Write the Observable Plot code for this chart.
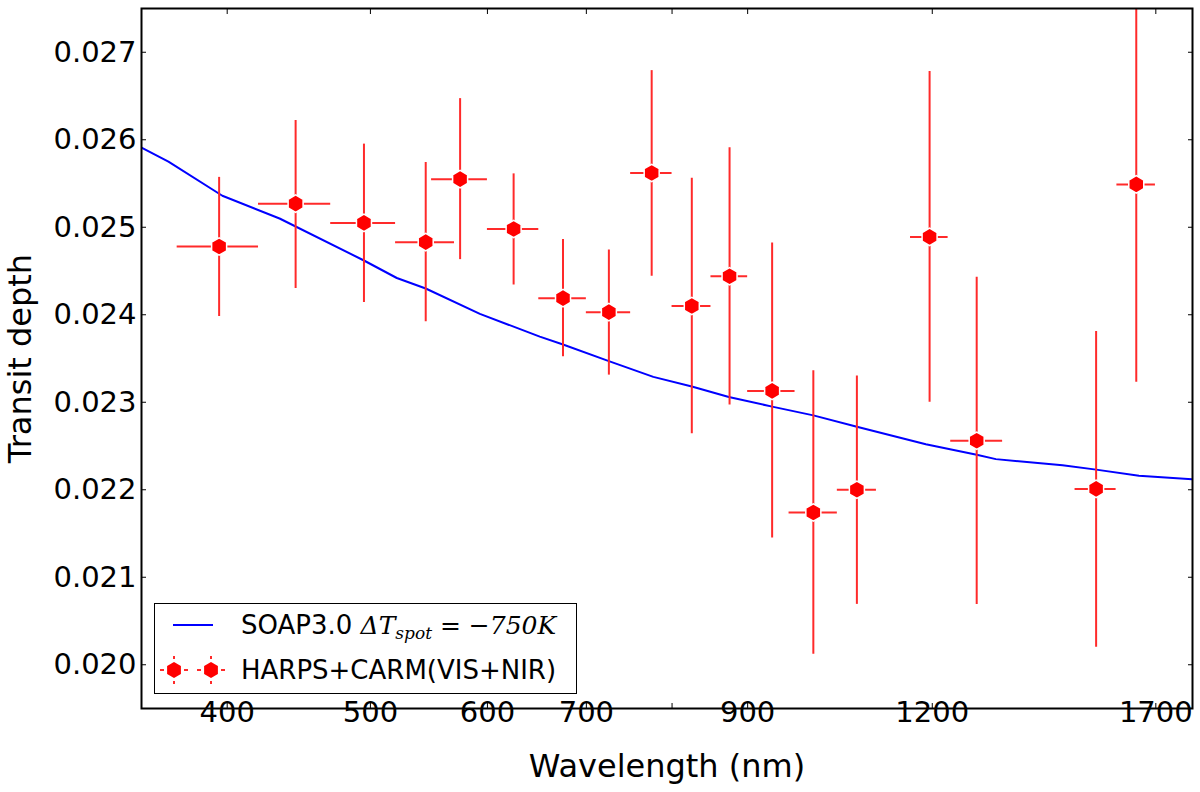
<!DOCTYPE html>
<html>
<head>
<meta charset="utf-8">
<script src="https://cdn.jsdelivr.net/npm/d3@7"></script>
<script src="https://cdn.jsdelivr.net/npm/@observablehq/plot@0.6"></script>
<style>
  body { margin: 0; background: #fff; font-family: "DejaVu Sans", sans-serif; }
  #chart { position: relative; width: 1200px; height: 792px; }
  .legend { position: absolute; left: 154px; top: 603px; width: 421px; height: 89px;
            border: 1.5px solid #000; background: #fff; }
  .legend svg { position: absolute; left: 0; top: 0; }
  .legend .row { position: absolute; left: 86px; font-size: 26px; line-height: 1; white-space: nowrap; color: #000; }
  .math { font-family: "DejaVu Serif", serif; font-style: italic; font-size: 25px; }
  .math sub { font-size: 17px; vertical-align: -5px; line-height: 0; }
</style>
</head>
<body>
<div id="chart"></div>
<script>
// measured transit depth per wavelength bin (nm)
const wavelength = [395, 445, 495, 545, 575, 625, 675, 725, 775, 825, 875, 935, 997, 1067, 1195, 1286, 1549, 1649];
const wlLow  = [370, 420, 470, 520, 550, 600, 650, 700, 750, 800, 850, 900, 960, 1035, 1160, 1235, 1499, 1600];
const wlHigh = [420, 470, 520, 570, 600, 650, 700, 750, 800, 850, 900, 969, 1035, 1100, 1230, 1339, 1598, 1699];
const depth     = [0.02478, 0.02527, 0.02505, 0.02483, 0.02555, 0.02498, 0.02419, 0.02403, 0.02562, 0.02410, 0.02444, 0.02313, 0.02174, 0.02200, 0.02489, 0.02256, 0.02201, 0.02549];
const depthLow  = [0.02398, 0.02430, 0.02414, 0.02392, 0.02463, 0.02434, 0.02352, 0.02331, 0.02444, 0.02264, 0.02297, 0.02145, 0.02012, 0.02069, 0.02300, 0.02069, 0.02020, 0.02323];
const depthHigh = [0.02557, 0.02622, 0.02595, 0.02574, 0.02647, 0.02561, 0.02486, 0.02474, 0.02679, 0.02556, 0.02591, 0.02482, 0.02336, 0.02330, 0.02678, 0.02443, 0.02381, 0.02775];

// SOAP3.0 model curve
const modelWavelength = [350, 365, 397, 434, 495, 521, 545, 593, 651, 675, 725, 777, 825, 874, 935, 997, 1067, 1188, 1286, 1325, 1470, 1549, 1656, 1800];
const modelDepth = [0.02591, 0.02575, 0.02536, 0.02510, 0.02462, 0.02442, 0.02430, 0.02401, 0.02375, 0.02366, 0.02347, 0.02329, 0.02318, 0.02306, 0.02295, 0.02285, 0.02272, 0.02252, 0.02240, 0.02235, 0.02228, 0.02223, 0.02216, 0.02212];

const xTicks = [400, 500, 600, 700, 800, 900, 1200, 1700];
const xTickLabels = ["400", "500", "600", "700", "", "900", "1200", "1700"];
const yTicks = [0.020, 0.021, 0.022, 0.023, 0.024, 0.025, 0.026, 0.027];

const points = wavelength.map((w, i) => ({
  w, lo: wlLow[i], hi: wlHigh[i], d: depth[i], dlo: depthLow[i], dhi: depthHigh[i]
}));
const model = modelWavelength.map((w, i) => ({ w, d: modelDepth[i] }));

const red = "#ff2a2a";

const chart = Plot.plot({
  width: 1200,
  height: 792,
  marginLeft: 141,
  marginRight: 8,
  marginTop: 8,
  marginBottom: 84,
  style: { fontFamily: "DejaVu Sans", fontSize: "29px", color: "#000", background: "#fff" },
  x: { type: "log", domain: [350, 1800] },
  y: { domain: [0.0195, 0.0275] },
  marks: [
    Plot.line(model, { x: "w", y: "d", stroke: "#0000ff", strokeWidth: 2, clip: true }),
    Plot.ruleY(points, { y: "d", x1: "lo", x2: "hi", stroke: red, strokeWidth: 2 }),
    Plot.ruleX(points, { x: "w", y1: "dlo", y2: "dhi", stroke: red, strokeWidth: 2, clip: true }),
    Plot.dot(points, { x: "w", y: "d", symbol: "hexagon", r: 7.5, fill: "#ff0000", stroke: "#fff", strokeWidth: 1.5 }),
    // ticks pointing into the frame, on all four sides
    Plot.axisX(xTicks, { anchor: "bottom", tickSize: -5, tickPadding: -2, tickFormat: d => xTickLabels[xTicks.indexOf(d)], label: null }),
    Plot.axisX(xTicks, { anchor: "top", tickSize: -5, fill: "none", label: null }),
    Plot.axisY(yTicks, { anchor: "left", tickSize: -5, tickPadding: 10, tickFormat: d => d.toFixed(3), label: null }),
    Plot.axisY(yTicks, { anchor: "right", tickSize: -5, fill: "none", label: null }),
    // axis titles
    Plot.text(["Wavelength (nm)"], { frameAnchor: "bottom", dy: 58, lineAnchor: "middle", fontSize: 32 }),
    Plot.text(["Transit depth"], { frameAnchor: "left", dx: -121, rotate: -90, textAnchor: "middle", lineAnchor: "middle", fontSize: 32 }),
    Plot.frame({ stroke: "#000", strokeWidth: 2 })
  ]
});

const holder = d3.select("#chart");
holder.append(() => chart);

// legend inside the axes, lower left
const legend = holder.append("div").attr("class", "legend");
const sw = legend.append("svg").attr("width", 80).attr("height", 89);
sw.append("line").attr("x1", 18).attr("x2", 58).attr("y1", 21).attr("y2", 21)
  .attr("stroke", "#0000ff").attr("stroke-width", 2);
[19, 56].forEach(cx => {
  const g = sw.append("g").attr("transform", `translate(${cx},66)`);
  g.append("path").attr("d", "M0,-8L6.9,-4L6.9,4L0,8L-6.9,4L-6.9,-4Z").attr("fill", "#ff0000");
  [[-14, 0, -10, 0], [10, 0, 14, 0], [0, -14, 0, -11], [0, 11, 0, 14]].forEach(([a, b, c, e]) =>
    g.append("line").attr("x1", a).attr("y1", b).attr("x2", c).attr("y2", e)
      .attr("stroke", red).attr("stroke-width", 2));
});
legend.append("div").attr("class", "row").style("top", "8px")
  .html('SOAP3.0 <span class="math">ΔT<sub>spot</sub> = −750K</span>');
legend.append("div").attr("class", "row").style("top", "53px")
  .text("HARPS+CARM(VIS+NIR)");
</script>
</body>
</html>
